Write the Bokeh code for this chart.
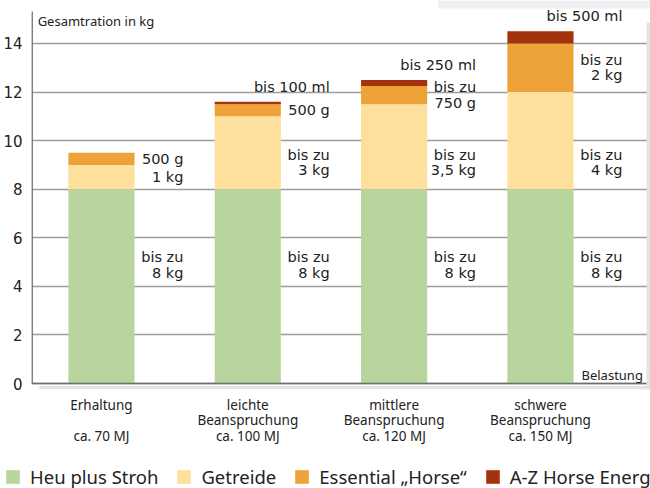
from bokeh.plotting import figure
from bokeh.layouts import column
from bokeh.models import ColumnDataSource, FixedTicker, Legend, LegendItem, Range1d, BoxAnnotation, Label
from bokeh.core.properties import value
from bokeh.embed import file_html
from bokeh.resources import INLINE

# ---- data ----
categories = ["Erhaltung", "leichte\nBeanspruchung", "mittlere\nBeanspruchung", "schwere\nBeanspruchung"]
energy = ["ca. 70 MJ", "ca. 100 MJ", "ca. 120 MJ", "ca. 150 MJ"]
heu = [8, 8, 8, 8]
getreide = [1, 3, 3.5, 4]
essential = [0.5, 0.5, 0.75, 2]
az = [0, 0.1, 0.25, 0.5]
heu_text = ["bis zu\n8 kg", "bis zu\n8 kg", "bis zu\n8 kg", "bis zu\n8 kg"]
getreide_text = ["1 kg", "bis zu\n3 kg", "bis zu\n3,5 kg", "bis zu\n4 kg"]
essential_text = ["500 g", "500 g", "bis zu\n750 g", "bis zu\n2 kg"]
az_text = ["", "bis 100 ml", "bis 250 ml", "bis 500 ml"]
series_names = ["Heu plus Stroh", "Getreide", "Essential \u201eHorse\u201c", "A-Z Horse Energy"]
y_ticks = [0, 2, 4, 6, 8, 10, 12, 14]
y_title = "Gesamtration in kg"
x_title = "Belastung"

# ---- styles ----
colors = ["#b7d59c", "#fce09b", "#eea338", "#a3320f"]
COMIC = "Noto Sans"
SANS = "DejaVu Sans"
TXT = "#222222"
SHADOW = "#e3e3e3"

X0, X1 = -0.478, 3.752
Y0, Y1 = -0.247, 15.77
Y_AXIS_TOP = 15.318

x = list(range(len(categories)))
stack = ["heu", "getreide", "essential", "az"]
src = ColumnDataSource(dict(x=x, heu=heu, getreide=getreide, essential=essential, az=az))

p = figure(width=650, height=458, output_backend="svg", toolbar_location=None,
           x_range=Range1d(X0, X1), y_range=Range1d(Y0, Y1),
           min_border_left=31, min_border_right=0, min_border_top=0, min_border_bottom=69)
p.frame_align = False
p.outline_line_color = None
p.background_fill_color = "white"

rs = p.vbar_stack(stack, x="x", width=0.452, source=src, color=colors, line_color=None)

# axes
p.xaxis.ticker = FixedTicker(ticks=x)
p.xaxis.major_label_overrides = {
    i: c + ("\n" if "\n" in c else "\n\n") + e for i, (c, e) in enumerate(zip(categories, energy))
}
p.xaxis.axis_line_color = None
p.xaxis.major_tick_line_color = None
p.xaxis.major_tick_out = 0
p.xaxis.major_tick_in = 0
p.xaxis.minor_tick_line_color = None
p.xaxis.major_label_standoff = 6
p.xaxis.major_label_text_font = COMIC
p.xaxis.major_label_text_font_size = "13.5px"
p.xaxis.major_label_text_line_height = 0.87
p.xaxis.major_label_text_color = TXT

p.yaxis.ticker = FixedTicker(ticks=y_ticks)
p.yaxis.axis_line_color = None
p.yaxis.major_tick_line_color = None
p.yaxis.major_tick_out = 0
p.yaxis.major_tick_in = 0
p.yaxis.minor_tick_line_color = None
p.yaxis.major_label_standoff = 9
p.yaxis.major_label_text_font = SANS
p.yaxis.major_label_text_font_size = "15px"
p.yaxis.major_label_text_color = TXT

p.xgrid.grid_line_color = None
p.ygrid.ticker = FixedTicker(ticks=y_ticks)
p.ygrid.grid_line_color = "#9d9d9d"
p.ygrid.grid_line_width = 1.6

# shadow bands and axis lines
p.add_layout(BoxAnnotation(left=-0.424, bottom=Y0, top=-0.1, fill_color=SHADOW, fill_alpha=1, line_color=None))
p.add_layout(BoxAnnotation(left=3.725, bottom=Y0, top=14.85, fill_color=SHADOW, fill_alpha=1, line_color=None))
p.add_layout(BoxAnnotation(left=2.3, bottom=15.44, fill_color="#eef0f3", fill_alpha=1, line_color=None))
p.segment(x0=[X0 + 0.004], y0=[0], x1=[X0 + 0.004], y1=[Y_AXIS_TOP], line_color="#6e6e6e", line_width=1.6)
p.segment(x0=[X0], y0=[0], x1=[3.725], y1=[0], line_color="#6e6e6e", line_width=1.6)

# value labels
lx = [i + 0.56 for i in x]

def add_labels(texts, ys, baseline="middle", yoff=0):
    s = ColumnDataSource(dict(x=lx, y=ys, t=texts))
    p.text(x="x", y="y", text="t", source=s, text_align="right", text_baseline=baseline,
           y_offset=yoff, text_font=value(SANS), text_font_size="14.5px", text_color=TXT,
           text_line_height=0.95)

b1 = heu
t1 = [a + b for a, b in zip(heu, getreide)]
t2 = [a + b for a, b in zip(t1, essential)]
t3 = [a + b for a, b in zip(t2, az)]

add_labels(heu_text, [h * 0.61 for h in heu])
add_labels(getreide_text, [min(b + 1.1, (b + t) / 2) for b, t in zip(b1, t1)])
add_labels(essential_text, [(b + t) / 2 for b, t in zip(t1, t2)])
add_labels(az_text, t3, baseline="bottom", yoff=-7)

p.add_layout(Label(x=X0 + 0.042, y=14.94, text=y_title, text_baseline="middle", text_align="left",
                   text_font=COMIC, text_font_size="13px", text_color=TXT))
p.add_layout(Label(x=3.70, y=0.37, text=x_title, text_baseline="middle", text_align="right",
                   text_font=COMIC, text_font_size="13px", text_color=TXT))

# legend strip: own figure; its bars lie far outside its visible ranges, only the legend shows
pl = figure(width=650, height=30, output_backend="svg", toolbar_location=None,
            x_range=Range1d(50, 51), y_range=Range1d(1000, 1001),
            x_axis_type=None, y_axis_type=None,
            min_border_left=0, min_border_right=0, min_border_top=0, min_border_bottom=0)
pl.frame_align = False
pl.outline_line_color = None
pl.xgrid.grid_line_color = None
pl.ygrid.grid_line_color = None
rl = pl.vbar_stack(stack, x="x", width=0.452, source=src, color=colors, line_color=None)

legend = Legend(items=[LegendItem(label=n, renderers=[r]) for n, r in zip(series_names, rl)],
                orientation="horizontal", location=(4, -1), padding=0, margin=0, spacing=17,
                glyph_width=17, glyph_height=17, label_standoff=9,
                label_text_font=COMIC, label_text_font_size="18.5px", label_text_color=TXT,
                label_text_line_height=0.9,
                background_fill_alpha=0, border_line_color=None)
pl.add_layout(legend, "center")

page = column(p, pl, spacing=0)
open("out.html", "w").write(file_html(page, INLINE))
